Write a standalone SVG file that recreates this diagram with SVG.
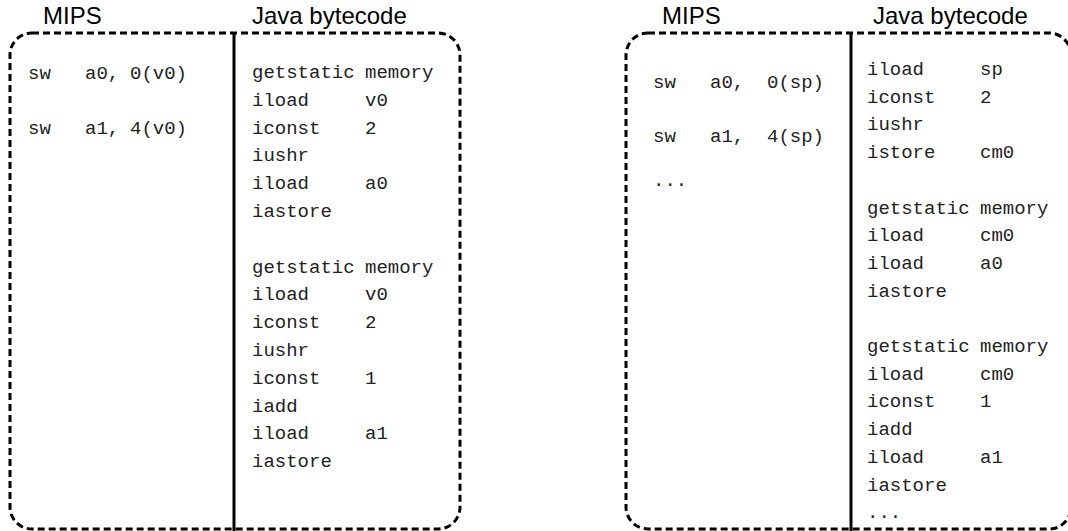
<svg xmlns="http://www.w3.org/2000/svg" width="1068" height="531" viewBox="0 0 1068 531">
<style>
.box{fill:none;stroke:#000;stroke-width:3;stroke-dasharray:7 4}
.div{stroke:#000;stroke-width:3}
.title{font-family:"Liberation Sans",Arial,sans-serif;font-size:24px;fill:#000}
.code{font-family:"Liberation Mono","Courier New",monospace;font-size:19px;fill:#222}
</style>
<rect width="1068" height="531" fill="#fff"/>
<g id="left-panel">
  <rect class="box" x="10" y="33" width="450" height="496" rx="22" ry="22"/>
  <line class="div" x1="234" y1="33" x2="234" y2="531"/>
  <text class="title" x="43" y="24">MIPS</text>
  <text class="title" x="252" y="24">Java bytecode</text>
  <g id="left-mips" class="code">
    <text x="28" y="79">sw</text><text x="85" y="79">a0,</text><text x="130" y="79">0(v0)</text>
    <text x="28" y="134">sw</text><text x="85" y="134">a1,</text><text x="130" y="134">4(v0)</text>
  </g>
  <g id="left-java" class="code">
    <text x="252" y="78">getstatic</text><text x="365" y="78">memory</text>
    <text x="252" y="105.8">iload</text><text x="365" y="105.8">v0</text>
    <text x="252" y="133.6">iconst</text><text x="365" y="133.6">2</text>
    <text x="252" y="161.4">iushr</text>
    <text x="252" y="189.2">iload</text><text x="365" y="189.2">a0</text>
    <text x="252" y="217">iastore</text>
    <text x="252" y="272.6">getstatic</text><text x="365" y="272.6">memory</text>
    <text x="252" y="300.4">iload</text><text x="365" y="300.4">v0</text>
    <text x="252" y="328.2">iconst</text><text x="365" y="328.2">2</text>
    <text x="252" y="356">iushr</text>
    <text x="252" y="383.8">iconst</text><text x="365" y="383.8">1</text>
    <text x="252" y="411.6">iadd</text>
    <text x="252" y="439.4">iload</text><text x="365" y="439.4">a1</text>
    <text x="252" y="467.2">iastore</text>
  </g>
</g>
<g id="right-panel">
  <rect class="box" x="626" y="33" width="445" height="496" rx="22" ry="22"/>
  <line class="div" x1="851" y1="33" x2="851" y2="531"/>
  <text class="title" x="662" y="24">MIPS</text>
  <text class="title" x="873" y="24">Java bytecode</text>
  <g id="right-mips" class="code">
    <text x="653" y="88">sw</text><text x="710" y="88">a0,</text><text x="767" y="88">0(sp)</text>
    <text x="653" y="142">sw</text><text x="710" y="142">a1,</text><text x="767" y="142">4(sp)</text>
    <text x="653" y="186">...</text>
  </g>
  <g id="right-java" class="code">
    <text x="867" y="75">iload</text><text x="980" y="75">sp</text>
    <text x="867" y="102.7">iconst</text><text x="980" y="102.7">2</text>
    <text x="867" y="130.4">iushr</text>
    <text x="867" y="158.1">istore</text><text x="980" y="158.1">cm0</text>
    <text x="867" y="213.5">getstatic</text><text x="980" y="213.5">memory</text>
    <text x="867" y="241.2">iload</text><text x="980" y="241.2">cm0</text>
    <text x="867" y="268.9">iload</text><text x="980" y="268.9">a0</text>
    <text x="867" y="296.6">iastore</text>
    <text x="867" y="352">getstatic</text><text x="980" y="352">memory</text>
    <text x="867" y="379.7">iload</text><text x="980" y="379.7">cm0</text>
    <text x="867" y="407.4">iconst</text><text x="980" y="407.4">1</text>
    <text x="867" y="435.1">iadd</text>
    <text x="867" y="462.8">iload</text><text x="980" y="462.8">a1</text>
    <text x="867" y="490.5">iastore</text>
    <text x="867" y="518.2">...</text>
  </g>
</g>
<g id="connectors"/>
</svg>
